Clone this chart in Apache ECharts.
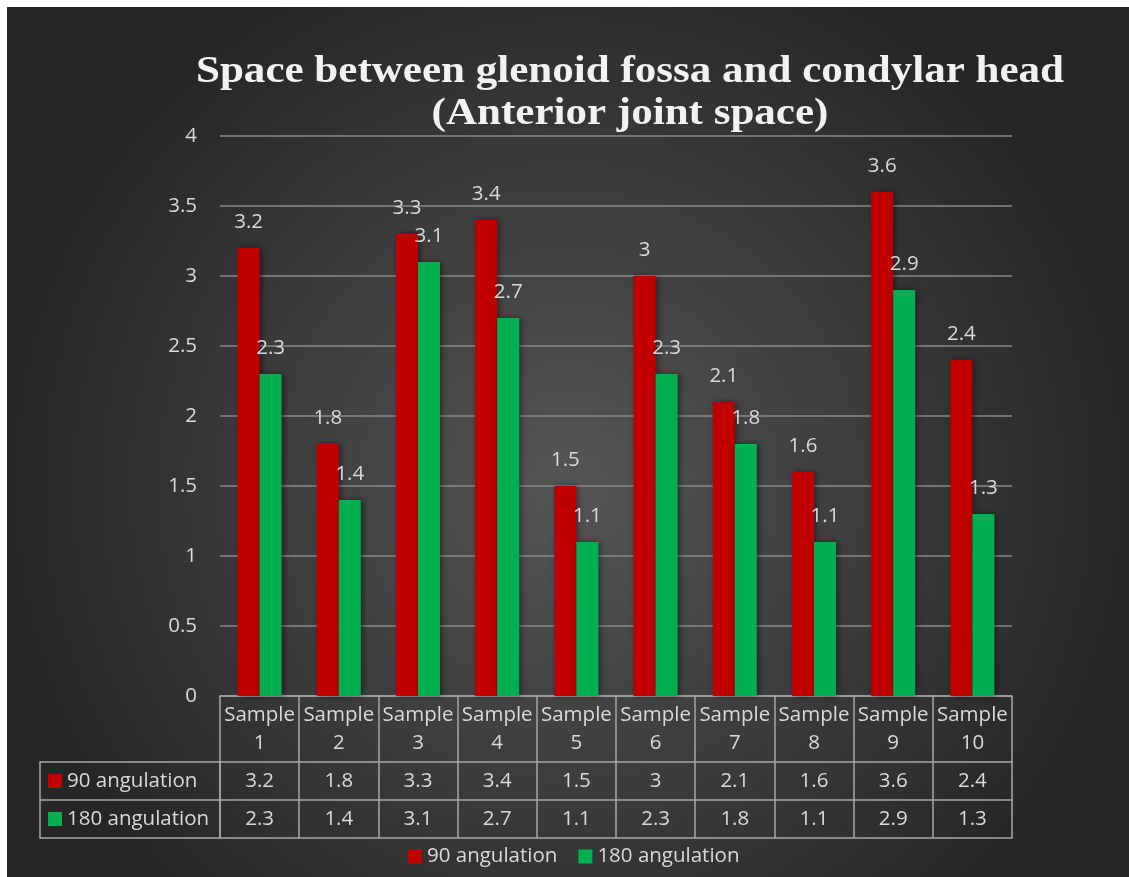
<!DOCTYPE html>
<html>
<head>
<meta charset="utf-8">
<script src="https://cdn.jsdelivr.net/npm/echarts@6/dist/echarts.min.js"></script>
<style>
html,body{margin:0;padding:0;background:#ffffff;}
#chart{width:1129px;height:877px;}
</style>
</head>
<body>
<div id="chart"></div>
<script>
const categories = ['Sample 1','Sample 2','Sample 3','Sample 4','Sample 5','Sample 6','Sample 7','Sample 8','Sample 9','Sample 10'];
const seriesNames = ['90 angulation','180 angulation'];
const values90 = [3.2, 1.8, 3.3, 3.4, 1.5, 3, 2.1, 1.6, 3.6, 2.4];
const values180 = [2.3, 1.4, 3.1, 2.7, 1.1, 2.3, 1.8, 1.1, 2.9, 1.3];
const titleLines = ['Space between glenoid fossa and condylar head', '(Anterior joint space)'];
const yTicks = {min: 0, max: 4, interval: 0.5};

const RED = '#C00000', GREEN = '#00B050';
const TXT = '#d9d9d9', LINE = '#a6a6a6';
const FONT = '"Open Sans", Lato, sans-serif';
const FS = 20.5;

const G = {left: 220, right: 117, top: 136, bottom: 181};
const W = 1129, H = 877;
const plotBottom = H - G.bottom;
const rowH = 38, headH = 66;

const chart = echarts.init(document.getElementById('chart'), null, {renderer: 'canvas'});

// measure title for width fitting
const mc = document.createElement('canvas').getContext('2d');
const TFONT = 'bold 38px "Liberation Serif", "Times New Roman", serif';
mc.font = TFONT;
const tScale = 868 / mc.measureText(titleLines[0]).width;

function rowName(color, text) {
  return {
    name: '{sq|}{t|' + text + '}',
    nameLocation: 'start',
    nameGap: G.left - 48,
    nameTextStyle: {
      align: 'left', verticalAlign: 'top', lineHeight: rowH,
      rich: {
        sq: {width: 14, height: 14, backgroundColor: color},
        t: {color: TXT, fontSize: FS, fontFamily: FONT, padding: [0, 0, 0, 5], lineHeight: rowH}
      }
    }
  };
}

const baseX = {
  type: 'category', data: categories, gridIndex: 0, position: 'bottom',
  axisLine: {show: true, lineStyle: {color: LINE, width: 1.5}},
  splitLine: {show: false}
};

const option = {
  backgroundColor: 'transparent',
  animation: false,
  textStyle: {fontFamily: FONT},
  graphic: [
    {type: 'rect', z: -100, silent: true, shape: {x: 7, y: 7, width: W - 7, height: H - 7},
      style: {fill: new echarts.graphic.RadialGradient(0.5, 0.55, 0.65, [
        {offset: 0, color: '#555555'}, {offset: 1, color: '#262626'}])}},
    {type: 'text', x: 630, y: 72, scaleX: tScale, z: 100,
      style: {text: titleLines[0], font: TFONT, fill: '#f2f2f2', align: 'center', verticalAlign: 'middle',
        shadowColor: 'rgba(0,0,0,0.85)', shadowBlur: 4, shadowOffsetX: 2, shadowOffsetY: 3}},
    {type: 'text', x: 630, y: 114, scaleX: tScale, z: 100,
      style: {text: titleLines[1], font: TFONT, fill: '#f2f2f2', align: 'center', verticalAlign: 'middle',
        shadowColor: 'rgba(0,0,0,0.85)', shadowBlur: 4, shadowOffsetX: 2, shadowOffsetY: 3}},
    {type: 'rect', z: 50, silent: true,
      shape: {x: 40, y: plotBottom + headH, width: G.left - 40, height: rowH * 2},
      style: {fill: 'none', stroke: LINE, lineWidth: 1.5}},
    {type: 'line', z: 50, silent: true,
      shape: {x1: 40, y1: plotBottom + headH + rowH, x2: G.left, y2: plotBottom + headH + rowH},
      style: {stroke: LINE, lineWidth: 1.5}}
  ],
  legend: {
    data: seriesNames, left: 408, top: 846, padding: 0, icon: 'rect', itemWidth: 14, itemHeight: 14, itemGap: 21,
    textStyle: {color: TXT, fontSize: FS, fontFamily: FONT}
  },
  grid: {left: G.left, right: G.right, top: G.top, bottom: G.bottom, containLabel: false},
  xAxis: [
    Object.assign({}, baseX, {
      offset: 0,
      axisTick: {show: true, interval: 0, length: headH, lineStyle: {color: LINE, width: 1.5}},
      axisLabel: {interval: 0, color: TXT, fontSize: FS, fontFamily: FONT, margin: 5, lineHeight: 28,
        formatter: v => v.replace(' ', '\n')}
    }),
    Object.assign({}, baseX, rowName(RED, seriesNames[0]), {
      offset: headH,
      axisTick: {show: true, interval: 0, length: rowH, lineStyle: {color: LINE, width: 1.5}},
      axisLabel: {interval: 0, color: TXT, fontSize: FS, fontFamily: FONT, margin: 0, lineHeight: rowH,
        formatter: (v, i) => String(values90[i])}
    }),
    Object.assign({}, baseX, rowName(GREEN, seriesNames[1]), {
      offset: headH + rowH,
      axisTick: {show: true, interval: 0, length: rowH, lineStyle: {color: LINE, width: 1.5}},
      axisLabel: {interval: 0, color: TXT, fontSize: FS, fontFamily: FONT, margin: 0, lineHeight: rowH,
        formatter: (v, i) => String(values180[i])}
    }),
    Object.assign({}, baseX, {
      offset: headH + rowH * 2,
      axisTick: {show: false},
      axisLabel: {show: false}
    })
  ],
  yAxis: {
    type: 'value', min: yTicks.min, max: yTicks.max, interval: yTicks.interval,
    axisLine: {show: false}, axisTick: {show: false},
    axisLabel: {color: TXT, fontSize: FS, fontFamily: FONT, margin: 23},
    splitLine: {lineStyle: {color: '#8a8a8a', width: 1.5}}
  },
  series: [
    {name: seriesNames[0], type: 'bar', data: values90, barWidth: 22, barGap: '0%',
      itemStyle: {color: RED, shadowColor: 'rgba(0,0,0,0.45)', shadowBlur: 6, shadowOffsetX: 2, shadowOffsetY: 0},
      label: {show: true, position: 'top', distance: 15, color: TXT, fontSize: FS, fontFamily: FONT}},
    {name: seriesNames[1], type: 'bar', data: values180, barWidth: 22, barGap: '0%',
      itemStyle: {color: GREEN, shadowColor: 'rgba(0,0,0,0.45)', shadowBlur: 6, shadowOffsetX: 2, shadowOffsetY: 0},
      label: {show: true, position: 'top', distance: 15, color: TXT, fontSize: FS, fontFamily: FONT}}
  ]
};
chart.setOption(option);
</script>
</body>
</html>
